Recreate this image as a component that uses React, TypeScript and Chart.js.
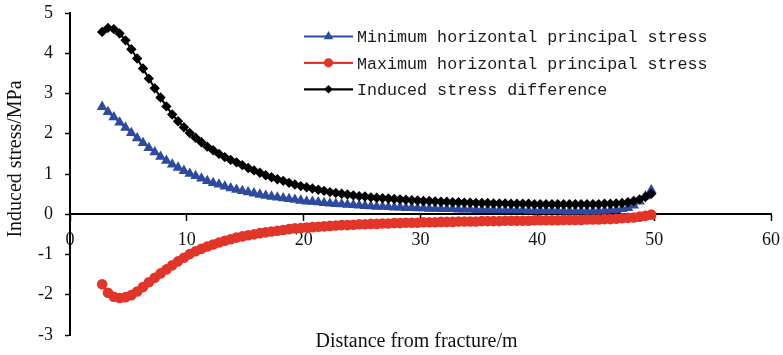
import React, { useEffect, useRef } from "react";
import { Chart, registerables } from "chart.js";

Chart.register(...registerables);

const DISTANCE = [
  2.75, 3.25, 3.75, 4.25, 4.75, 5.25, 5.75, 6.25, 6.75, 7.25,
  7.75, 8.25, 8.75, 9.25, 9.75, 10.25, 10.75, 11.25, 11.75, 12.25,
  12.75, 13.25, 13.75, 14.25, 14.75, 15.25, 15.75, 16.25, 16.75, 17.25,
  17.75, 18.25, 18.75, 19.25, 19.75, 20.25, 20.75, 21.25, 21.75, 22.25,
  22.75, 23.25, 23.75, 24.25, 24.75, 25.25, 25.75, 26.25, 26.75, 27.25,
  27.75, 28.25, 28.75, 29.25, 29.75, 30.25, 30.75, 31.25, 31.75, 32.25,
  32.75, 33.25, 33.75, 34.25, 34.75, 35.25, 35.75, 36.25, 36.75, 37.25,
  37.75, 38.25, 38.75, 39.25, 39.75, 40.25, 40.75, 41.25, 41.75, 42.25,
  42.75, 43.25, 43.75, 44.25, 44.75, 45.25, 45.75, 46.25, 46.75, 47.25,
  47.75, 48.25, 48.75, 49.25, 49.75,
];

const MIN_STRESS = [
  2.67, 2.54, 2.41, 2.28, 2.15, 2.02, 1.89, 1.77, 1.65, 1.54,
  1.43, 1.33, 1.24, 1.16, 1.08, 1.01, 0.95, 0.89, 0.83, 0.78,
  0.74, 0.69, 0.65, 0.61, 0.58, 0.55, 0.52, 0.49, 0.46, 0.44,
  0.42, 0.40, 0.38, 0.36, 0.34, 0.32, 0.31, 0.30, 0.28, 0.27,
  0.26, 0.25, 0.24, 0.23, 0.22, 0.21, 0.20, 0.19, 0.19, 0.18,
  0.17, 0.17, 0.16, 0.16, 0.15, 0.15, 0.14, 0.14, 0.13, 0.13,
  0.13, 0.12, 0.12, 0.12, 0.11, 0.11, 0.11, 0.11, 0.10, 0.10,
  0.10, 0.10, 0.10, 0.09, 0.09, 0.09, 0.09, 0.09, 0.09, 0.08,
  0.08, 0.08, 0.08, 0.08, 0.08, 0.08, 0.09, 0.10, 0.11, 0.13,
  0.16, 0.22, 0.32, 0.45, 0.60,
];

const MAX_STRESS = [
  -1.74, -1.95, -2.05, -2.08, -2.06, -2.01, -1.92, -1.81, -1.69, -1.58,
  -1.47, -1.37, -1.27, -1.17, -1.08, -0.99, -0.92, -0.86, -0.80, -0.75,
  -0.70, -0.66, -0.62, -0.58, -0.55, -0.52, -0.50, -0.47, -0.45, -0.43,
  -0.41, -0.39, -0.37, -0.35, -0.34, -0.33, -0.32, -0.31, -0.30, -0.29,
  -0.28, -0.27, -0.27, -0.26, -0.25, -0.25, -0.24, -0.24, -0.23, -0.23,
  -0.22, -0.22, -0.21, -0.21, -0.21, -0.20, -0.20, -0.20, -0.19, -0.19,
  -0.19, -0.18, -0.18, -0.18, -0.18, -0.17, -0.17, -0.17, -0.17, -0.16,
  -0.16, -0.16, -0.16, -0.16, -0.15, -0.15, -0.15, -0.15, -0.15, -0.14,
  -0.14, -0.14, -0.14, -0.13, -0.13, -0.13, -0.12, -0.12, -0.11, -0.10,
  -0.09, -0.08, -0.06, -0.04, -0.01,
];

const STRESS_DIFF = [
  4.53, 4.63, 4.60, 4.49, 4.32, 4.10, 3.87, 3.62, 3.37, 3.13,
  2.90, 2.68, 2.48, 2.31, 2.16, 2.02, 1.90, 1.79, 1.68, 1.59,
  1.50, 1.42, 1.35, 1.29, 1.22, 1.15, 1.09, 1.03, 0.97, 0.92,
  0.87, 0.83, 0.78, 0.74, 0.70, 0.67, 0.64, 0.61, 0.58, 0.55,
  0.53, 0.51, 0.49, 0.47, 0.45, 0.44, 0.42, 0.41, 0.40, 0.39,
  0.38, 0.37, 0.36, 0.35, 0.34, 0.33, 0.33, 0.32, 0.31, 0.31,
  0.30, 0.30, 0.29, 0.29, 0.28, 0.28, 0.28, 0.27, 0.27, 0.27,
  0.26, 0.26, 0.26, 0.26, 0.25, 0.25, 0.25, 0.25, 0.25, 0.25,
  0.25, 0.25, 0.25, 0.25, 0.25, 0.25, 0.26, 0.26, 0.27, 0.28,
  0.30, 0.33, 0.37, 0.43, 0.51,
];

const SERIES_NAMES = [
  "Minimum horizontal principal stress",
  "Maximum horizontal principal stress",
  "Induced stress difference",
];
const SERIES_COLORS = ["#2E4A9E", "#E1352A", "#000000"];
const SERIES_MARKERS = ["triangle", "circle", "rectRot"];
const SERIES_RADIUS = [6.2, 5.3, 5.2];

const X_TITLE = "Distance from fracture/m";
const Y_TITLE = "Induced stress/MPa";

function drawMarker(ctx: CanvasRenderingContext2D, style: string, x: number, y: number, r: number, color: string) {
  ctx.save();
  ctx.fillStyle = color;
  ctx.beginPath();
  if (style === "circle") {
    ctx.arc(x, y, r, 0, Math.PI * 2);
  } else if (style === "triangle") {
    const h = r * 1.5;
    const w = r * Math.sqrt(3);
    ctx.moveTo(x, y - r);
    ctx.lineTo(x + w / 2, y - r + h);
    ctx.lineTo(x - w / 2, y - r + h);
    ctx.closePath();
  } else {
    ctx.moveTo(x, y - r);
    ctx.lineTo(x + r, y);
    ctx.lineTo(x, y + r);
    ctx.lineTo(x - r, y);
    ctx.closePath();
  }
  ctx.fill();
  ctx.restore();
}

const overlayPlugin = {
  id: "overlay",
  afterDraw(chart: any) {
    const ctx: CanvasRenderingContext2D = chart.ctx;
    const area = chart.chartArea;
    ctx.save();
    const rows = [36.5, 62.8, 89.3];
    const legendR = [5.4, 4.6, 4.3];
    for (let i = 0; i < SERIES_NAMES.length; i++) {
      const y = rows[i];
      ctx.strokeStyle = SERIES_COLORS[i];
      ctx.lineWidth = 2.2;
      ctx.beginPath();
      ctx.moveTo(304, y);
      ctx.lineTo(353, y);
      ctx.stroke();
      drawMarker(ctx, SERIES_MARKERS[i], 328.5, y, legendR[i], SERIES_COLORS[i]);
      ctx.fillStyle = "#1a1a1a";
      ctx.font = "16.7px 'Liberation Mono', 'DejaVu Sans Mono', monospace";
      ctx.textAlign = "left";
      ctx.textBaseline = "middle";
      ctx.fillText(SERIES_NAMES[i], 357, y + 1.5);
    }
    ctx.fillStyle = "#111";
    ctx.font = "20px 'Liberation Serif', 'Times New Roman', serif";
    ctx.textAlign = "center";
    ctx.textBaseline = "middle";
    ctx.fillText(X_TITLE, (area.left + area.right) / 2 - 4, 342);
    ctx.translate(16, 159);
    ctx.rotate(-Math.PI / 2);
    ctx.fillText(Y_TITLE, 0, 0);
    ctx.restore();
  },
};

export default function App() {
  const canvasRef = useRef<HTMLCanvasElement | null>(null);

  useEffect(() => {
    const canvas = canvasRef.current;
    if (!canvas) return;
    const seriesValues = [MIN_STRESS, MAX_STRESS, STRESS_DIFF];
    const datasets = seriesValues.map((vals, i) => ({
      label: SERIES_NAMES[i],
      data: DISTANCE.map((x, j) => ({ x, y: vals[j] })),
      borderColor: SERIES_COLORS[i],
      backgroundColor: SERIES_COLORS[i],
      borderWidth: 2,
      pointStyle: SERIES_MARKERS[i] as any,
      pointRadius: SERIES_RADIUS[i],
      pointBorderWidth: 0,
      pointBackgroundColor: SERIES_COLORS[i],
      pointBorderColor: SERIES_COLORS[i],
      tension: 0,
      order: 2 - i,
    }));
    const tickFont = { family: "'Liberation Serif', 'Times New Roman', serif", size: 18 };
    const chart = new Chart(canvas, {
      type: "line",
      data: { datasets },
      plugins: [overlayPlugin],
      options: {
        animation: false,
        responsive: false,
        devicePixelRatio: 1,
        layout: { padding: { top: 13, right: 12, bottom: 20, left: 0 } },
        plugins: {
          legend: { display: false },
          tooltip: { enabled: false },
        },
        scales: {
          x: {
            type: "linear",
            position: { y: 0 } as any,
            min: 0,
            max: 60,
            ticks: { stepSize: 10, font: tickFont, color: "#111", padding: 9, maxRotation: 0 },
            grid: { drawOnChartArea: false, drawTicks: true, tickLength: 6, tickWidth: 1.5, tickColor: "#000" },
            border: { display: true, color: "#000", width: 2 },
            afterFit: (scale: any) => {
              scale.paddingLeft = 0;
              scale.paddingRight = 0;
              scale.paddingTop = 0;
              scale.paddingBottom = 0;
            },
          },
          y: {
            type: "linear",
            position: "left",
            min: -3,
            max: 5,
            ticks: { stepSize: 1, font: tickFont, color: "#111", padding: 12 },
            grid: { drawOnChartArea: false, drawTicks: true, tickLength: 5, tickWidth: 1.5, tickColor: "#000" },
            border: { display: true, color: "#000", width: 2 },
            afterFit: (scale: any) => {
              scale.width = 70;
              scale.paddingTop = 0;
              scale.paddingBottom = 0;
            },
          },
        },
      },
    });
    return () => chart.destroy();
  }, []);

  return (
    <div style={{ position: "absolute", left: 0, top: 0, width: 783, height: 355, background: "#fff" }}>
      <canvas ref={canvasRef} width={783} height={355} style={{ display: "block", width: 783, height: 355 }} />
    </div>
  );
}
